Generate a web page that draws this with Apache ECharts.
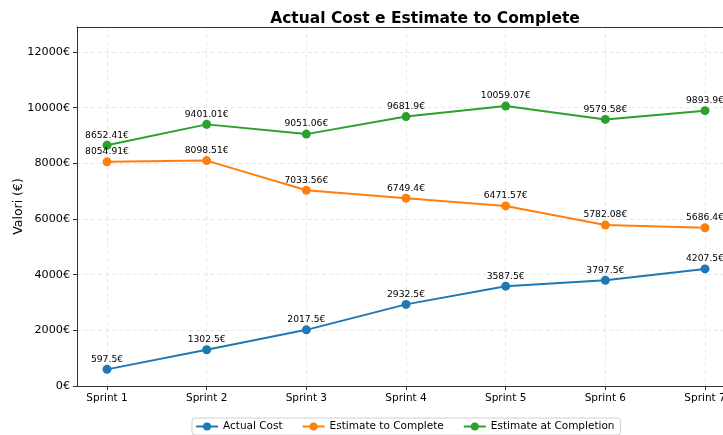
<!DOCTYPE html>
<html><head><meta charset="utf-8">
<script src="https://cdn.jsdelivr.net/npm/echarts@6/dist/echarts.min.js"></script>
<style>html,body{margin:0;padding:0;background:#fff}#c{width:723px;height:435px}</style>
</head><body><div id="c"></div>
<script>
const categories = ['Sprint 1','Sprint 2','Sprint 3','Sprint 4','Sprint 5','Sprint 6','Sprint 7'];
const actualCost = [597.5, 1302.5, 2017.5, 2932.5, 3587.5, 3797.5, 4207.5];
const estimateToComplete = [8054.91, 8098.51, 7033.56, 6749.4, 6471.57, 5782.08, 5686.4];
const estimateAtCompletion = [8652.41, 9401.01, 9051.06, 9681.9, 10059.07, 9579.58, 9893.9];
const yTicks = [0, 2000, 4000, 6000, 8000, 10000, 12000];

const F = 'DejaVu Sans';
const chart = echarts.init(document.getElementById('c'));
const fmt = v => (Math.round(v*100)/100) + '€';
function mk(name, data, color) {
  return {
    name, type: 'line', data, xAxisIndex: 1, yAxisIndex: 1,
    symbol: 'circle', symbolSize: 9,
    lineStyle: {color, width: 2}, itemStyle: {color},
    label: {show: true, position: 'top', distance: 1, color: '#000', fontFamily: F, fontSize: 9.2,
      formatter: p => fmt(p.value)},
    animation: false
  };
}
chart.setOption({
  animation: false,
  title: {text: 'Actual Cost e Estimate to Complete', left: 420, textAlign: 'center', top: 6,
    textStyle: {fontFamily: F, fontSize: 15.5, fontWeight: 'bold', color: '#000'}},
  grid: [
    {left: 77, right: -12, top: 27, bottom: 49, outerBoundsMode: 'none', containLabel: false},
    {left: 107, right: 18, top: 27, bottom: 49, outerBoundsMode: 'none', containLabel: false}
  ],
  xAxis: [
    {type: 'value', gridIndex: 0, min: 0, max: 1, axisLine: {show: true, lineStyle: {color: '#333', width: 1}},
      axisTick: {show: false}, axisLabel: {show: false}, splitLine: {show: false}},
    {type: 'category', gridIndex: 1, data: categories, boundaryGap: false,
      axisLine: {show: false}, axisTick: {show: true, inside: false, length: 4, alignWithLabel: true, lineStyle: {color: '#333'}},
      axisLabel: {fontFamily: F, fontSize: 10.5, color: '#000', margin: 7},
      splitLine: {show: true, lineStyle: {color: '#e3e3e3', type: [4, 3], width: 0.8}}},
    {type: 'value', gridIndex: 0, position: 'top', min: 0, max: 1, axisLine: {show: true, lineStyle: {color: '#333', width: 1}},
      axisTick: {show: false}, axisLabel: {show: false}, splitLine: {show: false}}
  ],
  yAxis: [
    {type: 'value', gridIndex: 0, min: 0, max: 12900, interval: 2000,
      name: 'Valori (€)', nameLocation: 'middle', nameGap: 52, nameRotate: 90, nameMoveOverlap: false,
      nameTextStyle: {fontFamily: F, fontSize: 12.5, color: '#000'},
      axisLine: {show: true, lineStyle: {color: '#333', width: 1}},
      axisTick: {show: true, inside: false, length: 4, lineStyle: {color: '#333'}},
      axisLabel: {fontFamily: F, fontSize: 11.2, color: '#000', margin: 7, formatter: v => v + '€',
        showMaxLabel: false},
      splitLine: {show: true, lineStyle: {color: '#e3e3e3', type: [4, 3], width: 0.8}}},
    {type: 'value', gridIndex: 1, min: 0, max: 12900, show: false, splitLine: {show: false}}
  ],
  legend: {
    top: 418, left: 192, itemWidth: 22, itemHeight: 10, itemGap: 19,
    borderColor: '#d0d0d0', borderWidth: 1, borderRadius: 3, padding: [3, 6, 3, 3],
    textStyle: {fontFamily: F, fontSize: 10.5, color: '#000'},
    data: ['Actual Cost', 'Estimate to Complete', 'Estimate at Completion']
  },
  series: [
    mk('Actual Cost', actualCost, '#1f77b4'),
    mk('Estimate to Complete', estimateToComplete, '#ff7f0e'),
    mk('Estimate at Completion', estimateAtCompletion, '#2ca02c')
  ]
});
</script></body></html>
